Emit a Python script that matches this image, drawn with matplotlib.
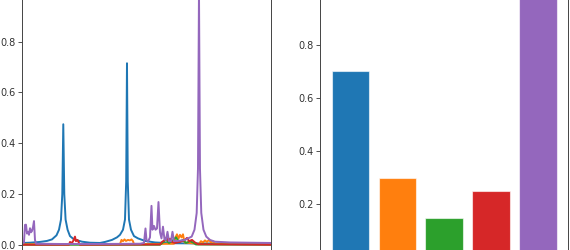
import matplotlib
matplotlib.use("Agg")
import matplotlib.pyplot as plt

# ---- left panel: spectra (x in arbitrary units) ----
blue_x = [22.3, 30, 40, 47, 52, 56.5, 59, 61, 62.3, 63.3, 64.3, 65.6, 67.6, 70, 74, 82, 90, 100,
          105, 112, 117, 120, 123, 125, 126.2, 127, 127.8, 129, 131, 134, 138, 145, 155, 170, 200, 230, 271]
blue_y = [0.008, 0.009, 0.012, 0.016, 0.022, 0.038, 0.06, 0.10, 0.20, 0.475, 0.20, 0.10, 0.06, 0.035,
          0.022, 0.013, 0.009, 0.008, 0.012, 0.02, 0.03, 0.04, 0.06, 0.10, 0.25, 0.715, 0.25, 0.10, 0.06,
          0.035, 0.026, 0.016, 0.01, 0.007, 0.006, 0.006, 0.005]

orange_x = [22.3, 120, 121.5, 123, 124.5, 126, 128, 130, 131.5, 133, 134, 174, 175.5, 177, 178.5, 180,
            181.5, 183, 184.5, 199, 201, 203, 205, 207, 209, 211, 213, 215, 271]
orange_y = [0.003, 0.003, 0.02, 0.015, 0.022, 0.016, 0.02, 0.018, 0.022, 0.015, 0.003, 0.005, 0.03,
            0.042, 0.025, 0.04, 0.03, 0.042, 0.01, 0.004, 0.015, 0.01, 0.018, 0.012, 0.02, 0.01, 0.015,
            0.004, 0.003]

green_x = [22.3, 160, 163, 166, 169, 172, 176, 179, 183, 186, 190, 193, 196, 271]
green_y = [0.001, 0.001, 0.01, 0.02, 0.008, 0.015, 0.03, 0.012, 0.02, 0.008, 0.015, 0.01, 0.002, 0.001]

red_x = [22.3, 69, 70, 72, 73.5, 75, 76, 77.5, 79, 80, 160, 162, 165, 166.5, 168, 170, 172, 175, 180,
         185, 187, 189, 192, 195, 198, 271]
red_y = [0.001, 0.001, 0.012, 0.008, 0.018, 0.033, 0.015, 0.02, 0.008, 0.001, 0.002, 0.012, 0.02,
         0.03, 0.018, 0.025, 0.012, 0.008, 0.012, 0.02, 0.028, 0.015, 0.02, 0.01, 0.003, 0.001]

purple_x = [22.3, 24, 25, 26, 27, 28.3, 29, 30, 31, 32, 33, 34, 35, 36, 60, 100, 140, 144, 145.5, 146.5,
            148, 150, 151.5, 152.5, 154, 155.5, 157, 158.5, 160, 161.5, 163, 164.5, 166, 167.5, 169,
            171, 172.5, 174, 178, 185, 191.7, 194.5, 196.7, 198, 199, 200, 201.3, 203.5, 206.3, 210,
            215, 230, 250, 271]
purple_y = [0.005, 0.01, 0.079, 0.08, 0.045, 0.052, 0.04, 0.066, 0.05, 0.055, 0.07, 0.094, 0.02, 0.005,
            0.004, 0.004, 0.005, 0.008, 0.065, 0.02, 0.013, 0.03, 0.154, 0.06, 0.075, 0.06, 0.065, 0.169,
            0.05, 0.026, 0.072, 0.022, 0.02, 0.052, 0.015, 0.015, 0.052, 0.015, 0.016, 0.02, 0.033,
            0.06, 0.126, 0.3, 1.0, 0.3, 0.126, 0.06, 0.033, 0.02, 0.013, 0.01, 0.009, 0.008]

# ---- right panel: bars ----
bar_categories = ["A", "B", "C", "D", "E"]
bar_values = [0.70, 0.30, 0.15, 0.25, 1.0]

left_yticks = [0.0, 0.2, 0.4, 0.6, 0.8]
right_yticks = [0.2, 0.4, 0.6, 0.8]

colors = ["#1f77b4", "#ff7f0e", "#2ca02c", "#d62728", "#9467bd"]

plt.rcParams["font.family"] = "DejaVu Sans"
fig = plt.figure(figsize=(5.7, 2.5), dpi=100)

ax1 = fig.add_axes([0.0391, -0.0308, 0.4363, 1.1184])
ax2 = fig.add_axes([0.5619, -0.0308, 0.4351, 1.1184])

series = [(blue_x, blue_y), (orange_x, orange_y), (green_x, green_y), (red_x, red_y), (purple_x, purple_y)]
for (xs, ys), c in zip(series, colors):
    ax1.plot(xs, ys, color=c, lw=1.4)
ax1.set_xlim(22.3, 271)
ax1.set_ylim(-0.05, 1.05)

pos = list(range(len(bar_categories)))
ax2.bar(pos, bar_values, width=0.8, color=colors, edgecolor=(1, 1, 1, 0.6), linewidth=0.8)
ax2.set_xlim(-0.64, 4.64)
ax2.set_ylim(0, 1.05)

for ax, ticks in ((ax1, left_yticks), (ax2, right_yticks)):
    ax.set_yticks(ticks)
    ax.set_yticklabels([f"{t:.1f}" for t in ticks])
    ax.tick_params(axis="y", labelsize=7, length=2.6, width=0.6, pad=2.2, colors="#333333")
    ax.set_xticks([])
    for s in ax.spines.values():
        s.set_linewidth(0.7)
        s.set_color("#444444")

fig.savefig("out.png", dpi=100)
